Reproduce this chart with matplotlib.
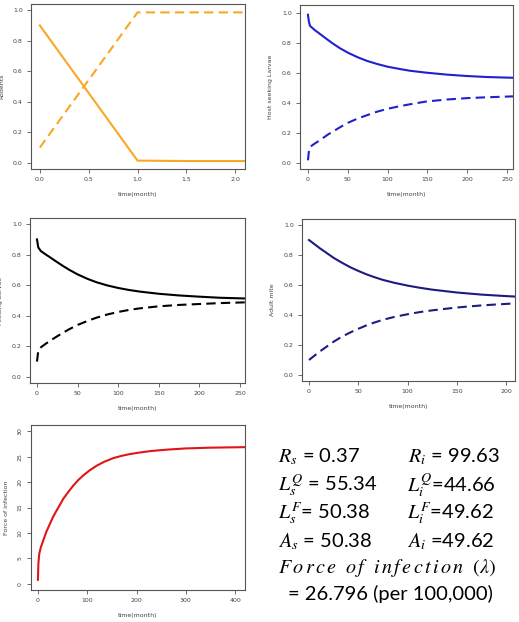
import matplotlib
matplotlib.use("Agg")
import matplotlib.pyplot as plt

# ---- data ----
rod_t = [0.0, 1.0, 1.5, 2.1]
rod_s = [0.90, 0.015, 0.012, 0.012]
rod_i = [0.10, 0.985, 0.985, 0.985]

hsl_t = [0, 1, 2.5, 8, 15, 25, 32, 40, 50, 62, 74, 87, 100, 115, 128, 149,
         175, 199, 225, 258]
hsl_s = [0.99, 0.95, 0.916, 0.89, 0.862, 0.822, 0.795, 0.767, 0.737, 0.707, 0.682,
         0.661, 0.643, 0.628, 0.616, 0.603, 0.590, 0.581, 0.574, 0.569]
hsl_i = [0.018, 0.07, 0.107, 0.128, 0.152, 0.19, 0.212, 0.238, 0.268, 0.296,
         0.319, 0.343, 0.362, 0.379, 0.392, 0.411, 0.424, 0.433, 0.439, 0.445]

fl_t = [0, 1.6, 4.9, 10, 16, 24, 32, 40, 50, 62, 73.5, 87, 100, 113, 127, 150,
        175, 200, 225, 257]
fl_s = [0.90, 0.847, 0.823, 0.804, 0.783, 0.754, 0.726, 0.700, 0.671, 0.642, 0.619,
        0.598, 0.582, 0.569, 0.558, 0.544, 0.533, 0.525, 0.518, 0.513]
fl_i = [0.10, 0.172, 0.194, 0.214, 0.236, 0.263, 0.289, 0.313, 0.34, 0.366, 0.388,
        0.409, 0.425, 0.438, 0.449, 0.462, 0.471, 0.477, 0.483, 0.488]

am_t = [0, 11, 25, 33, 42, 50, 58, 66, 75, 87, 100, 112, 125, 150, 175, 200, 209]
am_s = [0.90, 0.845, 0.781, 0.75, 0.718, 0.694, 0.672, 0.653, 0.634, 0.614, 0.596,
        0.582, 0.569, 0.55, 0.536, 0.526, 0.523]
am_i = [0.10, 0.157, 0.222, 0.254, 0.284, 0.308, 0.33, 0.349, 0.368, 0.388,
        0.405, 0.419, 0.431, 0.45, 0.464, 0.474, 0.477]

foi_t = [0, 1, 2.7, 6, 10.8, 17, 24.4, 31, 37.9, 45, 51.4, 62, 71.7, 82, 92, 105,
         119, 135, 153, 170, 187, 207, 230, 260, 300, 350, 420]
foi_v = [0.8, 4.0, 5.9, 7.2, 8.5, 10.2, 11.8, 13.2, 14.4, 15.6, 16.7, 18.1, 19.3,
         20.4, 21.3, 22.3, 23.2, 24.0, 24.7, 25.15, 25.5, 25.8, 26.1, 26.35, 26.6,
         26.75, 26.85]

W, H = 519, 622
fig = plt.figure(figsize=(W / 100, H / 100), dpi=100)

GRAY = "#555555"
DASH = (4.5, 2.5)
YT = [0, 0.2, 0.4, 0.6, 0.8, 1.0]
YTL = ["0.0", "0.2", "0.4", "0.6", "0.8", "1.0"]


def make_ax(left, top, right, bottom):
    ax = fig.add_axes([left / W, 1 - bottom / H, (right - left) / W, (bottom - top) / H])
    for sp in ax.spines.values():
        sp.set_color(GRAY)
        sp.set_linewidth(0.8)
    ax.tick_params(direction="out", length=3, width=0.6, color=GRAY,
                   labelsize=4.5, labelcolor="#444444", pad=3)
    return ax


def label(ax, xl, yl):
    ax.set_xlabel(xl, fontsize=4.5, color="#444444", labelpad=7)
    ax.set_ylabel(yl, fontsize=4.5, color="#444444", labelpad=6)


# Rodents
ax = make_ax(31, 4, 245, 169)
ax.plot(rod_t, rod_s, color="#F9A825", lw=1.5)
ax.plot(rod_t, rod_i, color="#F9A825", lw=1.5, dashes=DASH)
ax.set_xlim(-0.09, 2.1)
ax.set_ylim(-0.04, 1.04)
ax.set_xticks([0, 0.5, 1.0, 1.5, 2.0], ["0.0", "0.5", "1.0", "1.5", "2.0"])
ax.set_yticks(YT, YTL)
label(ax, "time(month)", "Rodents")

# Host seeking larvae
ax = make_ax(300, 5, 513, 169)
ax.plot(hsl_t, hsl_s, color="#2020D0", lw=1.5)
ax.plot(hsl_t, hsl_i, color="#2020D0", lw=1.5, dashes=DASH)
ax.set_xlim(-10, 257.5)
ax.set_ylim(-0.04, 1.055)
ax.set_xticks([0, 50, 100, 150, 200, 250])
ax.set_yticks(YT, YTL)
label(ax, "time(month)", "Host seeking Larvae")

# Feeding larvae
ax = make_ax(30, 218, 245, 383)
ax.plot(fl_t, fl_s, color="black", lw=1.5)
ax.plot(fl_t, fl_i, color="black", lw=1.5, dashes=DASH)
ax.set_xlim(-8.6, 256)
ax.set_ylim(-0.04, 1.04)
ax.set_xticks([0, 50, 100, 150, 200, 250])
ax.set_yticks(YT, YTL)
label(ax, "time(month)", "Feeding Larvae")

# Adult mite
ax = make_ax(302, 219, 515, 381)
ax.plot(am_t, am_s, color="#1C1C80", lw=1.5)
ax.plot(am_t, am_i, color="#1C1C80", lw=1.5, dashes=DASH)
ax.set_xlim(-7.1, 209)
ax.set_ylim(-0.04, 1.04)
ax.set_xticks([0, 50, 100, 150, 200])
ax.set_yticks(YT, YTL)
label(ax, "time(month)", "Adult mite")

# Force of infection
ax = make_ax(31, 425, 245, 590)
ax.plot(foi_t, foi_v, color="#E01515", lw=1.5)
ax.set_xlim(-14, 420)
ax.set_ylim(-1.2, 31.2)
ax.set_xticks([0, 100, 200, 300, 400])
ax.set_yticks([0, 5, 10, 15, 20, 25, 30])
for t in ax.get_yticklabels():
    t.set_rotation(90)
    t.set_va("center")
label(ax, "time(month)", "Force of infection")

# summary values
plt.rcParams["mathtext.fontset"] = "stix"
fs = 14.5
fam = "Lato"


def ftext(x, y, s, **kw):
    fig.text(x / W, 1 - y / H, s, fontsize=fs, family=fam, va="center", ha="left", **kw)


ftext(278, 457, r"$R_s$ = 0.37")
ftext(408, 457, r"$R_i$ = 99.63")
ftext(278, 485, r"$L_s^Q$ = 55.34")
ftext(407, 485, r"$L_i^Q$=44.66")
ftext(278, 513, r"$L_s^F$= 50.38")
ftext(407, 513, r"$L_i^F$=49.62")
ftext(278, 542, r"$A_s$ = 50.38")
ftext(407, 542, r"$A_i$ =49.62")
ftext(278, 568, r"$F\,o\,r\,c\,e\ \ o\,f\ \ i\,n\,f\,e\,c\,t\,i\,o\,n\ \ (\lambda)$")
ftext(288, 594, "= 26.796 (per 100,000)")

fig.savefig("out.png", dpi=100)
